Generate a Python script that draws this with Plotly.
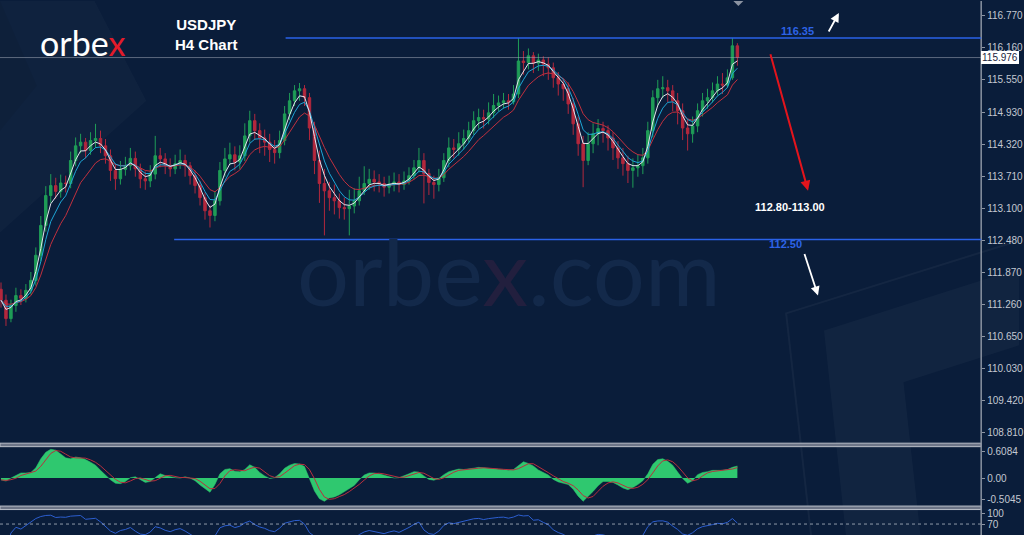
import plotly.graph_objects as go
import pandas as pd

closes = [
    111.34, 110.99, 111.24, 111.43, 111.38, 111.53, 111.72, 112.20, 112.77, 113.34,
    113.53, 113.42, 113.58, 113.57, 114.01, 114.29, 114.36, 114.20, 114.39, 114.43,
    114.29, 114.10, 113.82, 113.66, 113.84, 113.91, 114.05, 113.85, 113.66, 113.62,
    113.75, 114.10, 114.04, 113.92, 113.85, 113.95, 114.01, 113.91, 113.72, 113.53,
    113.30, 113.05, 112.96, 113.24, 113.82, 114.04, 114.12, 113.98, 114.10, 114.48,
    114.77, 114.58, 114.44, 114.36, 114.22, 114.16, 114.39, 114.90, 115.15, 115.34,
    115.38, 115.21, 114.63, 114.01, 113.57, 113.43, 113.30, 113.24, 113.11, 113.09,
    113.14, 113.24, 113.43, 113.57, 113.65, 113.60, 113.57, 113.50, 113.56, 113.60,
    113.55, 113.62, 113.72, 113.87, 114.01, 113.76, 113.59, 113.55, 113.68, 114.01,
    114.25, 114.22, 114.33, 114.43, 114.58, 114.77, 114.83, 114.80, 114.92, 115.06,
    115.11, 115.15, 115.13, 115.28, 115.91, 115.88, 116.01, 115.87, 115.93, 115.85,
    115.78, 115.59, 115.47, 115.38, 115.09, 114.71, 114.33, 114.01, 114.33, 114.52,
    114.62, 114.58, 114.44, 114.25, 114.06, 113.95, 113.82, 113.87, 113.91, 114.06,
    114.58, 115.21, 115.38, 115.40, 115.34, 115.15, 114.96, 114.63, 114.52, 114.67,
    114.96, 115.15, 115.21, 115.34, 115.47, 115.45, 115.59, 116.20, 115.98,
]
highs = [
    111.68, 111.45, 111.35, 111.58, 111.55, 111.65, 111.88, 112.35, 112.95, 113.52,
    113.75, 113.68, 113.74, 113.72, 114.18, 114.45, 114.52, 114.44, 114.55, 114.71,
    114.58, 114.42, 114.22, 113.95, 114.00, 114.08, 114.25, 114.18, 113.95, 113.80,
    113.92, 114.48, 114.25, 114.15, 114.05, 114.12, 114.22, 114.12, 113.98, 113.82,
    113.62, 113.40, 113.15, 113.42, 113.98, 114.25, 114.35, 114.28, 114.30, 114.72,
    114.96, 114.90, 114.72, 114.60, 114.52, 114.40, 114.58, 115.05, 115.30, 115.45,
    115.49, 115.45, 115.30, 114.75, 114.20, 113.85, 113.60, 113.55, 113.38, 113.30,
    113.45, 113.48, 113.70, 113.90, 113.85, 113.82, 113.75, 113.70, 113.72, 113.78,
    113.75, 113.80, 113.88, 114.02, 114.25, 114.15, 113.85, 113.72, 113.85, 114.15,
    114.45, 114.42, 114.55, 114.60, 114.75, 114.95, 115.00, 114.98, 115.12, 115.28,
    115.25, 115.30, 115.28, 115.45, 116.35, 116.10, 116.15, 116.08, 116.05, 116.00,
    115.98, 115.88, 115.70, 115.58, 115.50, 115.20, 114.85, 114.48, 114.55, 114.72,
    114.80, 114.75, 114.68, 114.55, 114.38, 114.25, 114.10, 114.05, 114.12, 114.25,
    114.75, 115.35, 115.55, 115.62, 115.55, 115.45, 115.30, 115.10, 114.80, 114.85,
    115.10, 115.30, 115.38, 115.50, 115.62, 115.68, 115.75, 116.35, 116.25,
]
lows = [
    111.20, 110.85, 110.92, 111.12, 111.25, 111.30, 111.45, 111.62, 112.08, 112.65,
    113.20, 113.28, 113.30, 113.40, 113.48, 113.90, 114.15, 114.05, 114.12, 114.25,
    114.15, 113.95, 113.62, 113.45, 113.55, 113.72, 113.82, 113.70, 113.48, 113.45,
    113.50, 113.65, 113.88, 113.75, 113.70, 113.75, 113.85, 113.70, 113.55, 113.38,
    113.15, 112.88, 112.73, 112.85, 113.15, 113.70, 113.92, 113.82, 113.85, 114.00,
    114.35, 114.40, 114.15, 114.10, 113.98, 113.95, 114.05, 114.30, 114.78, 115.05,
    115.15, 115.05, 114.40, 113.75, 113.20, 112.58, 113.05, 112.98, 112.90, 112.88,
    112.58, 113.00, 113.15, 113.35, 113.45, 113.42, 113.40, 113.32, 113.38, 113.42,
    113.40, 113.45, 113.55, 113.65, 113.78, 113.19, 113.35, 113.28, 113.42, 113.60,
    113.88, 114.05, 114.10, 114.22, 114.35, 114.50, 114.62, 114.62, 114.70, 114.82,
    114.95, 115.00, 114.98, 115.08, 115.20, 115.65, 115.75, 115.68, 115.72, 115.62,
    115.55, 115.40, 115.25, 115.15, 114.90, 114.50, 114.10, 113.50, 113.92, 114.15,
    114.30, 114.35, 114.20, 114.02, 113.85, 113.72, 113.58, 113.49, 113.70, 113.75,
    113.95, 114.45, 115.05, 115.20, 115.12, 114.95, 114.70, 114.40, 114.20, 114.35,
    114.55, 114.85, 115.00, 115.12, 115.25, 115.28, 115.40, 115.55, 115.82,
]
first_open = 111.55
last_price = 115.976

# MACD main line
macd_main = [
    -0.04, -0.07, 0.00, 0.06, 0.12, 0.12, 0.13, 0.24, 0.45, 0.60,
    0.67, 0.65, 0.55, 0.47, 0.45, 0.49, 0.47, 0.43, 0.37, 0.30,
    0.18, 0.07, -0.04, -0.12, -0.13, -0.08, 0.01, 0.03, -0.03, -0.10,
    -0.08, 0.00, 0.10, 0.06, 0.03, 0.01, 0.00, 0.03, 0.00, -0.06,
    -0.16, -0.25, -0.33, -0.15, 0.10, 0.20, 0.22, 0.16, 0.15, 0.20,
    0.31, 0.25, 0.13, 0.05, -0.01, 0.01, 0.10, 0.23, 0.30, 0.34,
    0.33, 0.27, -0.01, -0.30, -0.48, -0.54, -0.46, -0.44, -0.39, -0.32,
    -0.23, -0.17, -0.04, 0.07, 0.12, 0.12, 0.10, 0.07, 0.04, 0.00,
    0.01, 0.05, 0.10, 0.15, 0.14, 0.05, -0.03, -0.05, -0.01, 0.08,
    0.15, 0.18, 0.21, 0.20, 0.21, 0.23, 0.25, 0.24, 0.22, 0.21,
    0.21, 0.19, 0.18, 0.20, 0.28, 0.38, 0.34, 0.28, 0.19, 0.12,
    0.07, -0.03, -0.09, -0.12, -0.15, -0.26, -0.42, -0.54, -0.43, -0.31,
    -0.18, -0.08, -0.08, -0.10, -0.16, -0.23, -0.27, -0.22, -0.15, -0.06,
    0.10, 0.32, 0.43, 0.45, 0.39, 0.30, 0.14, -0.01, -0.12, -0.06,
    0.08, 0.13, 0.15, 0.18, 0.18, 0.18, 0.20, 0.25, 0.28,
]

levels = [116.35, 112.50]
level_labels = ["116.35", "112.50"]
target_label = "112.80-113.00"

price_ticks = [116.77, 116.16, 115.55, 114.93, 114.32, 113.71, 113.10,
               112.48, 111.87, 111.26, 110.65, 110.03, 109.42, 108.81]
macd_ticks = [0.6084, 0.0, -0.5045]
macd_tick_text = ["0.6084", "0.00", "-0.5045"]
rsi_ticks = [100, 70]

W, H = 1024, 535


def px(x):
    return x / W


def py(y):
    return 1 - y / H


df = pd.DataFrame({"close": closes, "high": highs, "low": lows, "macd": macd_main})
df["open"] = df["close"].shift(1).fillna(first_open)
df["x"] = range(len(df))

ma_fast = df["close"].ewm(span=3, adjust=False).mean()
ma_mid = df["close"].ewm(span=5, adjust=False).mean()
ma_slow = df["close"].ewm(span=9, adjust=False).mean()

signal = df["macd"].rolling(3, min_periods=1).mean()

delta = df["close"].diff().fillna(0)
gain = delta.clip(lower=0).ewm(alpha=1 / 7, adjust=False).mean()
loss = (-delta.clip(upper=0)).ewm(alpha=1 / 7, adjust=False).mean()
rsi = 100 - 100 / (1 + gain / loss.replace(0, 1e-9))

BG = "#0a1d3a"
GREEN = "#1f9d57"
RED = "#b3283d"
TICK = "#c3c8d1"

fig = go.Figure()

fig.add_trace(go.Candlestick(
    x=df["x"], open=df["open"], high=df["high"], low=df["low"], close=df["close"],
    increasing=dict(line=dict(color=GREEN, width=1), fillcolor=GREEN),
    decreasing=dict(line=dict(color=RED, width=1), fillcolor=RED),
    whiskerwidth=0, showlegend=False, hoverinfo="skip",
))
for ma, col in [(ma_slow, "#c2313f"), (ma_mid, "#1fa6d6"), (ma_fast, "#e4e6ee")]:
    fig.add_trace(go.Scatter(x=df["x"], y=ma, mode="lines", line=dict(color=col, width=1),
                             showlegend=False, hoverinfo="skip"))

fig.add_trace(go.Scatter(x=df["x"], y=df["macd"], yaxis="y2", mode="lines", fill="tozeroy",
                         fillcolor="#2fc86f", line=dict(color="#2fc86f", width=0.5),
                         showlegend=False, hoverinfo="skip"))
fig.add_trace(go.Scatter(x=df["x"], y=signal, yaxis="y2", mode="lines",
                         line=dict(color="#b8303e", width=1), showlegend=False, hoverinfo="skip"))
fig.add_trace(go.Scatter(x=df["x"], y=rsi, yaxis="y3", mode="lines",
                         line=dict(color="#2d5fd0", width=1), showlegend=False, hoverinfo="skip"))

axis_common = dict(side="right", anchor="x", showgrid=False, zeroline=False, showline=False,
                   ticks="outside", ticklen=3, tickcolor="#8d95a3",
                   tickfont=dict(family="Liberation Sans", size=10, color=TICK))

shapes = [
    # faint background decoration
    dict(type="path", xref="paper", yref="paper", layer="below",
         path=f"M {px(0)} {py(0)} L {px(95)} {py(0)} L {px(147)} {py(100)} L {px(0)} {py(232)} Z",
         fillcolor="rgba(255,255,255,0.025)", line=dict(width=0)),
    dict(type="path", xref="paper", yref="paper", layer="below",
         path=f"M {px(0)} {py(0)} L {px(37)} {py(85)} L {px(0)} {py(130)} Z",
         fillcolor="rgba(0,0,0,0.06)", line=dict(width=0)),
    dict(type="path", xref="paper", yref="paper", layer="below",
         path=f"M {px(1024)} {py(240)} L {px(790)} {py(313)} L {px(815)} {py(535)}",
         line=dict(color="rgba(255,255,255,0.045)", width=2)),
    dict(type="path", xref="paper", yref="paper", layer="below",
         path=(f"M {px(828)} {py(330)} L {px(1024)} {py(268)} L {px(1024)} {py(345)} "
               f"L {px(908)} {py(382)} L {px(925)} {py(535)} L {px(850)} {py(535)} Z"),
         fillcolor="rgba(255,255,255,0.03)", line=dict(width=0)),
    # current price line
    dict(type="line", xref="paper", yref="y", x0=0, x1=px(986), y0=last_price, y1=last_price,
         line=dict(color="rgba(160,168,182,0.55)", width=1)),
    # RSI 70 level
    dict(type="line", xref="paper", yref="y3", x0=0, x1=px(986), y0=70, y1=70,
         line=dict(color="rgba(200,205,215,0.7)", width=1, dash="dot")),
    # pane separators
    dict(type="rect", xref="paper", yref="paper", x0=0, x1=px(986), y0=py(446.5), y1=py(443),
         fillcolor="#6d7587", line=dict(color="#b9bec8", width=1)),
    dict(type="rect", xref="paper", yref="paper", x0=0, x1=px(986), y0=py(509.5), y1=py(506),
         fillcolor="#6d7587", line=dict(color="#b9bec8", width=1)),
    # price axis line
    dict(type="line", xref="paper", yref="paper", x0=px(986), x1=px(986), y0=0, y1=1,
         line=dict(color="#8b93a1", width=1.5)),
    # small marker at the top
    dict(type="path", xref="paper", yref="paper",
         path=f"M {px(737)} {py(0)} L {px(747)} {py(0)} L {px(742)} {py(5)} Z",
         fillcolor="#8b93a1", line=dict(width=0)),
]
level_starts = [287, 175]
for lvl, x0 in zip(levels, level_starts):
    shapes.append(dict(type="line", xref="paper", yref="y", x0=px(x0), x1=px(986), y0=lvl, y1=lvl,
                       line=dict(color="#2a62e8", width=1.5)))


def label(text, x, y, size, color, family="Liberation Sans"):
    return dict(text=text, xref="paper", yref="paper", x=px(x), y=py(y),
                xanchor="center", yanchor="middle", showarrow=False,
                font=dict(family=family, size=size, color=color))


annotations = [
    label("orbe<span style='color:#221f3e'>x</span>.com", 511, 270, 92, "#13294a", "Lato"),
    label("orbe<span style='color:#e31b2a'>x</span>", 83, 42, 34, "#ffffff", "Lato"),
    label("<b>USDJPY</b><br><b>H4 Chart</b>", 208, 34, 15, "#ffffff"),
    label(f"<b>{level_labels[0]}</b>", 801, 30, 11, "#2d63e6"),
    label(f"<b>{level_labels[1]}</b>", 789, 243, 11, "#2d63e6"),
    label(f"<b>{target_label}</b>", 794, 206, 11, "#ffffff"),
    # arrows
    dict(text="", xref="paper", yref="paper", x=px(812), y=py(190), ax=-38, ay=-138,
         showarrow=True, arrowhead=2, arrowsize=1, arrowwidth=2, arrowcolor="#e3141c"),
    dict(text="", xref="paper", yref="paper", x=px(843), y=py(12), ax=-11, ay=20,
         showarrow=True, arrowhead=2, arrowsize=1, arrowwidth=1.8, arrowcolor="#ffffff"),
    dict(text="", xref="paper", yref="paper", x=px(822), y=py(295), ax=-14, ay=-43,
         showarrow=True, arrowhead=2, arrowsize=1, arrowwidth=1.8, arrowcolor="#ffffff"),
    # last price tag
    dict(text=f"{last_price:.3f}", xref="paper", yref="y", x=px(986), y=last_price,
         xanchor="left", yanchor="middle", showarrow=False, bgcolor="#ffffff",
         bordercolor="#ffffff", borderpad=0,
         font=dict(family="Liberation Sans", size=10, color="#1a2440")),
]

fig.update_layout(
    width=W, height=H,
    margin=dict(l=0, r=0, t=0, b=0),
    paper_bgcolor=BG, plot_bgcolor="rgba(0,0,0,0)",
    showlegend=False,
    xaxis=dict(domain=[0, px(986)], range=[-0.2, 197.0], visible=False,
               rangeslider=dict(visible=False)),
    yaxis=dict(domain=[py(443), 1], range=[108.611, 117.056],
               tickvals=price_ticks, ticktext=[f"{v:.3f}" for v in price_ticks], **axis_common),
    yaxis2=dict(domain=[py(506), py(446)], range=[-0.65, 0.742],
                tickvals=macd_ticks, ticktext=macd_tick_text, **axis_common),
    yaxis3=dict(domain=[0, py(509)], range=[40, 111],
                tickvals=rsi_ticks, ticktext=[str(v) for v in rsi_ticks], **axis_common),
    shapes=shapes,
    annotations=annotations,
)

fig.write_html("out.html", config={"displayModeBar": False},
               post_script="document.body.style.margin='0';document.body.style.overflow='hidden';")
